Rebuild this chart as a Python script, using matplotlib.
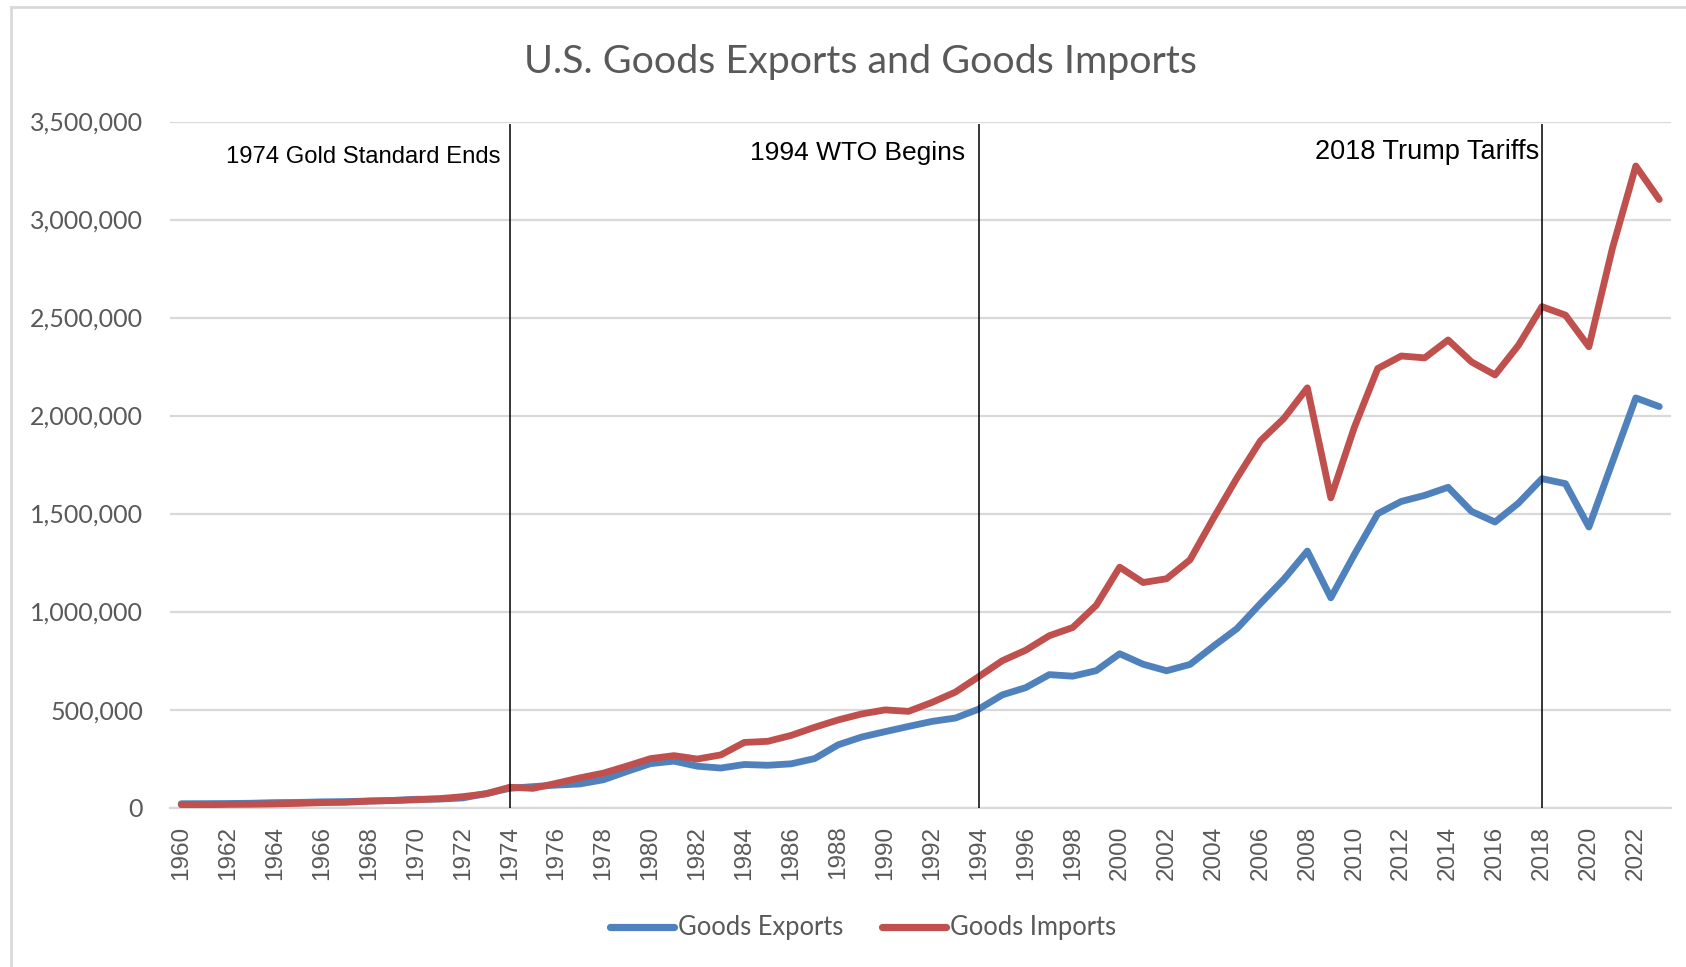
import matplotlib
matplotlib.use("Agg")
import matplotlib.pyplot as plt
from matplotlib.lines import Line2D
from matplotlib.ticker import FuncFormatter

# ---- data (millions of US dollars) ----
years = list(range(1960, 2024))
goods_exports = [
    19650, 20108, 20781, 22272, 25501, 26461, 29310, 30666, 33626, 36414,
    42469, 43319, 49381, 71410, 98306, 107088, 114745, 120816, 142075, 184439,
    224250, 237044, 211157, 201799, 219926, 215915, 223344, 250208, 320230, 359916,
    387401, 414083, 439631, 456943, 502859, 575204, 612113, 678366, 670416, 698524,
    784940, 731331, 698036, 730446, 823584, 913016, 1040905, 1165151, 1308795, 1070331,
    1290279, 1499240, 1561689, 1592784, 1633987, 1510757, 1456957, 1553383, 1677990, 1652437,
    1431406, 1761724, 2089928, 2045700,
]
goods_imports = [
    14758, 14537, 16260, 17048, 18700, 21510, 25493, 26866, 32991, 35807,
    39866, 45579, 55797, 70499, 103811, 98185, 124228, 151907, 176002, 212007,
    249750, 265067, 247642, 268901, 332418, 338088, 368425, 409765, 447189, 477665,
    498438, 491020, 536528, 589394, 668690, 749374, 803113, 876794, 918637, 1031784,
    1226684, 1148231, 1167377, 1264307, 1477094, 1681780, 1870963, 1985462, 2141287, 1580025,
    1938950, 2239886, 2303785, 2294247, 2385480, 2273249, 2207195, 2358834, 2555562, 2512355,
    2351000, 2852000, 3273000, 3102000,
]
series_names = ["Goods Exports", "Goods Imports"]
event_years = [1974, 1994, 2018]
event_labels = ["1974 Gold Standard Ends", "1994 WTO Begins", "2018 Trump Tariffs"]
tick_years = list(range(1960, 2024, 2))
y_ticks = [0, 500000, 1000000, 1500000, 2000000, 2500000, 3000000, 3500000]
title = "U.S. Goods Exports and Goods Imports"

# ---- styling ----
BLUE = "#4F81BD"
RED = "#C0504D"
GREY_TXT = "#595959"
GRID = "#D9D9D9"
UI_FONT = ["Lato", "DejaVu Sans"]
ANN_FONT = ["Liberation Sans", "DejaVu Sans"]

W, H = 1686, 967
fig = plt.figure(figsize=(W / 100, H / 100), dpi=100)
fig.patch.set_facecolor("white")

# outer chart frame (left and top edges visible)
fig.add_artist(Line2D([10.5 / W, 10.5 / W], [0, 1 - 7 / H], transform=fig.transFigure,
                      color=GRID, lw=2.0))
fig.add_artist(Line2D([10.5 / W, 1], [1 - 7 / H, 1 - 7 / H], transform=fig.transFigure,
                      color=GRID, lw=2.0))

left, right = 169.5, 1671.0
top, bottom = 121.5, 807.6
ax = fig.add_axes([left / W, 1 - bottom / H, (right - left) / W, (bottom - top) / H])

ax.plot(years, goods_exports, color=BLUE, lw=4.9, solid_capstyle="round",
        solid_joinstyle="round", label=series_names[0], zorder=3)
ax.plot(years, goods_imports, color=RED, lw=4.9, solid_capstyle="round",
        solid_joinstyle="round", label=series_names[1], zorder=4)

ax.set_xlim(1959.5, 2023.5)
ax.set_ylim(0, 3500000)

ax.set_yticks(y_ticks)
ax.yaxis.set_major_formatter(FuncFormatter(lambda v, p: f"{int(v):,}"))
ax.set_xticks(tick_years)
ax.set_xticklabels([str(y) for y in tick_years], rotation=90)

ax.grid(axis="y", color=GRID, lw=1.6, zorder=0)
ax.set_axisbelow(True)
for s in ["left", "right", "top"]:
    ax.spines[s].set_visible(False)
ax.spines["bottom"].set_color(GRID)
ax.spines["bottom"].set_linewidth(1.6)

ax.tick_params(axis="y", length=0, pad=19, labelsize=18, labelcolor=GREY_TXT)
ax.tick_params(axis="x", length=0, pad=13, labelcolor=GREY_TXT)
for lbl in ax.get_yticklabels():
    lbl.set_fontfamily(UI_FONT)
for lbl in ax.get_xticklabels():
    lbl.set_fontfamily(ANN_FONT)
    lbl.set_fontsize(17.5)

# event markers
ax.vlines(event_years, 0, 3486000, color="black", lw=1.1, zorder=6)
offsets = [0.38, 0.6, 0.1]
label_y = [3317000, 3337000, 3342000]
label_size = [17.2, 19, 19.5]
for yr, txt, off, ly, fs in zip(event_years, event_labels, offsets, label_y, label_size):
    ax.text(yr - off, ly, txt, ha="right", va="center", fontsize=fs,
            color="black", family=ANN_FONT, zorder=7)

# title
fig.text(860 / W, 1 - 62 / H, title, ha="center", va="center", fontsize=28.4,
         color=GREY_TXT, family=UI_FONT)

# legend
leg = fig.legend(loc="center", bbox_to_anchor=(863 / W, 1 - 928 / H), ncol=2,
                 frameon=False, handlelength=2.5, handletextpad=0.15, columnspacing=1.5,
                 prop={"family": UI_FONT, "size": 18.4})
for t in leg.get_texts():
    t.set_color(GREY_TXT)
for h in leg.get_lines():
    h.set_linewidth(5.2)
    h.set_solid_capstyle("round")

fig.savefig("out.png", dpi=100, facecolor="white")
